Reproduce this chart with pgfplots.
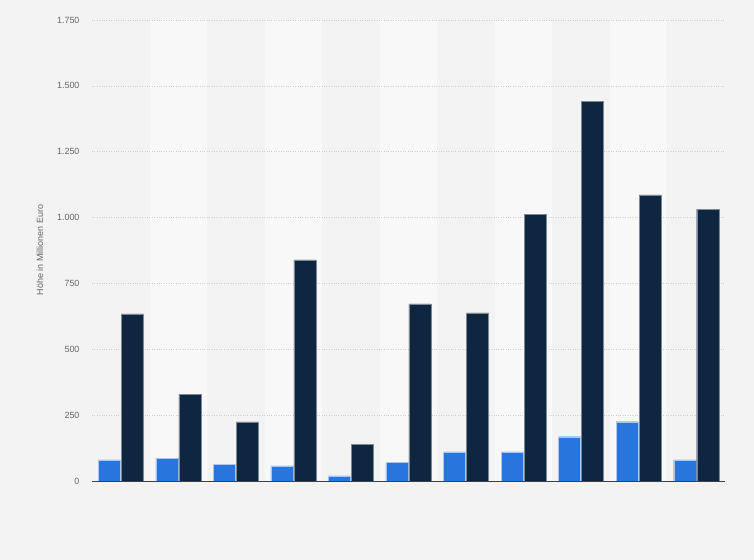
\documentclass[border=0pt]{standalone}
\usepackage{pgfplots}
\pgfplotsset{compat=1.18}
\usepackage{fontspec}
\setmainfont{Liberation Sans}
\definecolor{bglight}{HTML}{F3F3F3}
\definecolor{band}{HTML}{F8F8F8}
\definecolor{lblue}{HTML}{2876DD}
\definecolor{navy}{HTML}{0F2640}
\definecolor{gridc}{HTML}{CFCFCF}
\definecolor{tickc}{HTML}{666666}

\pgfplotsset{frame/.style={
    at={(92bp,79bp)}, anchor=south west,
    scale only axis, width=633bp, height=461bp,
    xmin=-0.5, xmax=10.5, ymin=0, ymax=1750}}

\begin{document}
\begin{tikzpicture}[x=1bp,y=1bp]
  \fill[bglight] (0,0) rectangle (754,560);
  % alternating column bands
  \begin{axis}[frame, hide axis]
    \pgfplotsinvokeforeach{1,3,5,7,9}{
      \fill[band] (axis cs:#1-0.5,0) rectangle (axis cs:#1+0.5,1750);
    }
  \end{axis}
  \begin{axis}[
      frame,
      axis x line*=bottom, axis y line*=left,
      x axis line style={draw=black!75, line width=0.8pt},
      y axis line style={draw=none},
      xtick=\empty,
      ytick={0,250,...,1750},
      major tick length=0pt,
      ymajorgrids,
      major grid style={gridc, dotted, line width=0.6pt},
      yticklabel style={font=\fontsize{9}{10}\selectfont, text=tickc, xshift=-9bp},
      /pgf/number format/.cd, 1000 sep={.}, assume math mode=true,
    ]
    \addplot[ybar, bar width=0.383, bar shift=-0.2, fill=lblue, draw=white!60!lblue, line width=0.4pt]
      coordinates {(0,80) (1,87) (2,62) (3,57) (4,19) (5,70) (6,111) (7,111) (8,168) (9,225) (10,80)};
    \addplot[ybar, bar width=0.383, bar shift=0.2, fill=navy, draw=white!45!navy, line width=0.4pt]
      coordinates {(0,634) (1,330) (2,224) (3,839) (4,140) (5,672) (6,638) (7,1013) (8,1442) (9,1086) (10,1032)};
  \end{axis}
  \node[rotate=90, text=tickc, font=\fontsize{9}{10}\selectfont] at (40,310) {Höhe in Millionen Euro};
\end{tikzpicture}
\end{document}
